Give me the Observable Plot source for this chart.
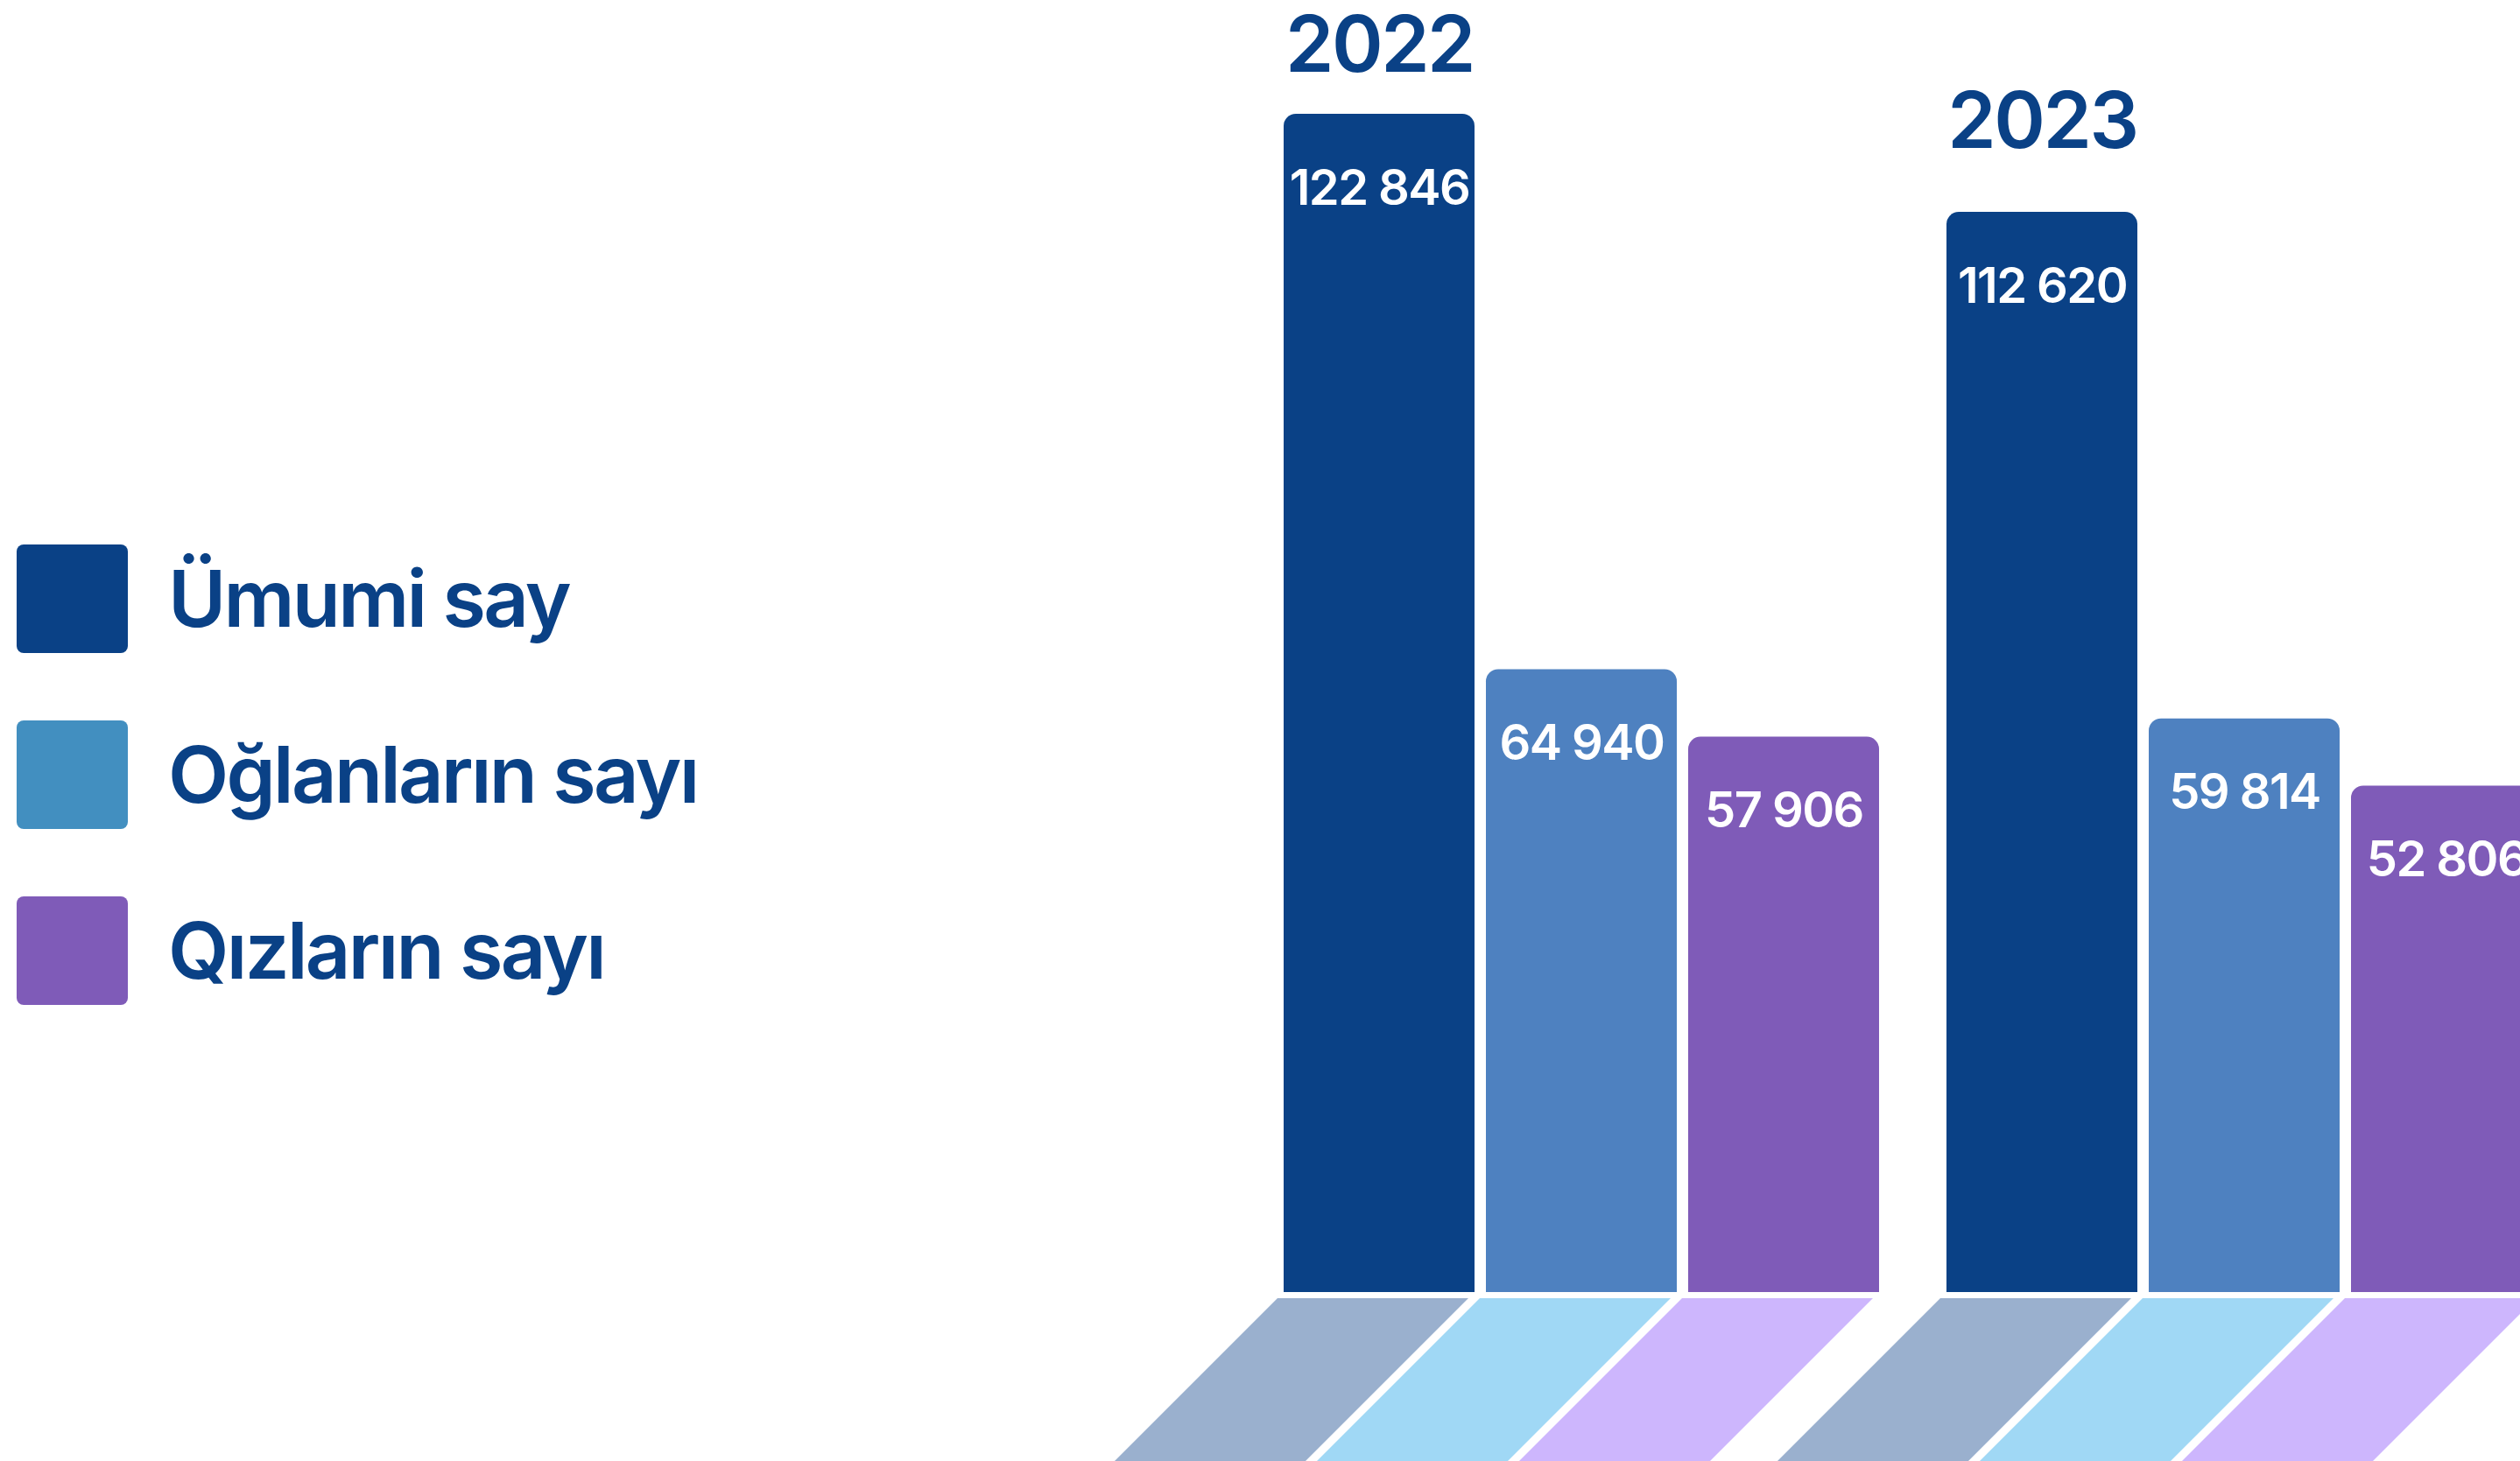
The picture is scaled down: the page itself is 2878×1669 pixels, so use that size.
<!DOCTYPE html>
<html><head><meta charset="utf-8">
<script src="https://cdn.jsdelivr.net/npm/d3@7"></script>
<script src="https://cdn.jsdelivr.net/npm/@observablehq/plot@0.6"></script>
<style>
html,body{margin:0;padding:0;background:#fff;overflow:hidden}
#wrap{position:relative;width:2878px;height:1669px;font-family:Inter,sans-serif}
#chart{position:absolute;left:0;top:0}
#legend{position:absolute;left:19px;top:622px;display:flex;flex-direction:column;gap:77px;z-index:2}
.item{display:flex;align-items:center;height:124px}
.sw{width:127px;height:124px;border-radius:8px;margin-right:46px;flex:none}
.lab{font-size:90px;font-weight:600;color:#0A4186;line-height:1;white-space:nowrap;letter-spacing:-0.03em}
</style></head><body><div id="wrap"><div id="chart"></div><div id="legend"></div></div>
<script>
const years = ["2022", "2023"];
const categories = ["Ümumi say", "Oğlanların sayı", "Qızların sayı"];
const totalValues = [122846, 112620];
const boysValues = [64940, 59814];
const girlsValues = [57906, 52806];

const barColors = ["#0A4186", "#4E81C0", "#7F5BB8"];
const floorColors = ["#9AB0CE", "#A0D8F5", "#CDB6FD"];
const legendColors = ["#0A4186", "#428FC0", "#7F5BB8"];

const data = years.flatMap((year, i) => [
  {year, category: categories[0], value: totalValues[i]},
  {year, category: categories[1], value: boysValues[i]},
  {year, category: categories[2], value: girlsValues[i]}
]);

const fmt = d3.formatLocale({decimal: ",", thousands: " ", grouping: [3], currency: ["", ""]}).format(",d");

const W = 2878, H = 1669, MB = 193;

const floorMarks = categories.map((c, i) =>
  Plot.barY(data.filter(d => d.category === c), {
    fx: "year", x: "category", y1: 0, y2: 0,
    insetTop: 7, insetBottom: -320, fill: floorColors[i], ariaLabel: "floor"
  })
);

const plot = Plot.plot({
  width: W, height: H,
  marginLeft: 1466, marginRight: -25, marginTop: 130, marginBottom: MB,
  style: {fontFamily: "Inter, sans-serif", background: "transparent", overflow: "hidden"},
  fx: {domain: years, paddingInner: 77 / 757, paddingOuter: 0, axis: null, label: null},
  x: {domain: categories, paddingInner: 13 / 231, paddingOuter: 0, axis: null, label: null},
  y: {domain: [0, d3.max(data, d => d.value)], axis: null},
  color: {domain: categories, range: barColors},
  marks: [
    ...floorMarks,
    Plot.barY(data, {fx: "year", x: "category", y: "value", fill: "category", rx: 14, ariaLabel: "bars"}),
    // square off the bottom corners
    Plot.barY(data, {fx: "year", x: "category", y1: 0, y2: 0, insetTop: -20, insetBottom: 0, fill: "category"}),
    Plot.text(data, {
      fx: "year", x: "category", y: "value", text: d => fmt(d.value),
      fill: "white", fontSize: 56, fontWeight: 600, lineAnchor: "bottom", dy: 103
    }),
    Plot.text(data.filter(d => d.year === years[0] && d.category === categories[0]), {
      fx: "year", x: "category", y: "value", text: "year",
      fill: "#0A4186", fontSize: 89, fontWeight: 600, lineAnchor: "bottom", dy: -49
    }),
    Plot.text(data.filter(d => d.year === years[1] && d.category === categories[0]), {
      fx: "year", x: "category", y: "value", text: "year",
      fill: "#0A4186", fontSize: 89, fontWeight: 600, lineAnchor: "bottom", dy: -74
    })
  ]
});

// tighter tracking for all chart texts
plot.querySelectorAll("text").forEach(t => t.style.letterSpacing = "-0.028em");

// skew the floor rectangles into 45° parallelograms anchored at the baseline
let y0 = NaN;
try { y0 = plot.scale("y").apply(0); } catch (e) {}
if (!isFinite(y0)) y0 = H - MB;
const floorSet = new Set(floorColors.map(c => c.toUpperCase()));
const targets = new Set();
plot.querySelectorAll("g, rect").forEach(el => {
  const f = (el.getAttribute("fill") || "").toUpperCase();
  if (floorSet.has(f)) targets.add(el);
});
targets.forEach(el => {
  let p = el.parentNode, skip = false;
  while (p && p !== plot) { if (targets.has(p)) { skip = true; break; } p = p.parentNode; }
  if (skip) return;
  const prev = el.getAttribute("transform") || "";
  el.setAttribute("transform", `translate(${y0},0) skewX(-45) ${prev}`);
});

document.getElementById("chart").appendChild(plot);

const legend = d3.select("#legend");
categories.forEach((c, i) => {
  const item = legend.append("div").attr("class", "item");
  item.append("div").attr("class", "sw").style("background", legendColors[i]);
  item.append("div").attr("class", "lab").text(c);
});
</script>
</body></html>
